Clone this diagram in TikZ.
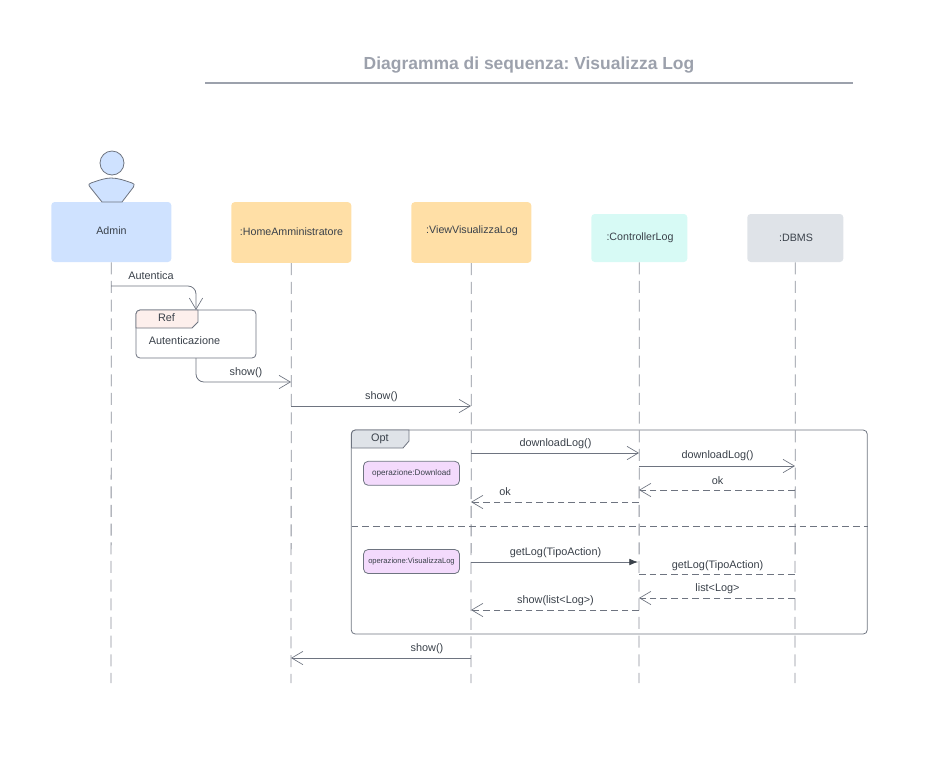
\documentclass[tikz,border=0pt]{standalone}
\usepackage{fontspec}
\setmainfont{Liberation Sans}
\frenchspacing
\usetikzlibrary{arrows.meta}
\definecolor{ln}{HTML}{6E7480}
\definecolor{lifeln}{HTML}{8A8F99}
\definecolor{txt}{HTML}{3A414A}
\definecolor{ttl}{HTML}{9CA1AC}
\definecolor{opfill}{HTML}{F3DAFC}
\definecolor{blueh}{HTML}{CFE2FF}
\definecolor{orangeh}{HTML}{FFDFA6}
\definecolor{tealh}{HTML}{D7FAF5}
\definecolor{grayh}{HTML}{DFE3E8}
\definecolor{refh}{HTML}{FDEFEC}
\tikzset{
  x=0.75pt,y=-0.75pt,
  head/.style={rectangle,rounded corners=2.5pt,inner sep=0pt,text=txt,font=\fontsize{8}{10}\selectfont},
  lifeline/.style={draw=lifeln,line width=0.6pt,dash pattern=on 9pt off 5pt},
  msg/.style={draw=ln,line width=0.6pt},
  opena/.style={-{Straight Barb[length=8.5pt,width=10pt,line width=0.5pt]}},
  ret/.style={msg,opena,dash pattern=on 5pt off 3pt},
  label/.style={text=txt,font=\fontsize{8.15}{10}\selectfont,inner sep=0pt},
  opbox/.style={rectangle,draw=ln,line width=0.6pt,rounded corners=3.5pt,fill=opfill,inner sep=0pt,text=txt,font=\fontsize{5.7}{7}\selectfont},
}
\begin{document}
\begin{tikzpicture}
\useasboundingbox (0,0) rectangle (931,758);
% title
\node[text=ttl,font=\fontsize{13.1}{16}\bfseries\selectfont,inner sep=0pt] (title) at (529,65) {Diagramma di sequenza: Visualizza Log};
\coordinate (tl) at (205,83); \coordinate (tr) at (853,83);
\draw[draw=ttl,line width=1.4pt] (tl) -- (tr);
% lifelines anchors
\coordinate (e1) at (111,683); \coordinate (e2) at (291,683); \coordinate (e3) at (471,683); \coordinate (e4) at (639,683); \coordinate (e5) at (795,683);
% heads
\node[head,fill=blueh,minimum width=90pt,minimum height=45pt] (admin) at (111.3,232) {};
\node[head,fill=orangeh,minimum width=90pt,minimum height=45.5pt] (home) at (291.3,232.5) {};
\node[head,fill=orangeh,minimum width=90pt,minimum height=45.5pt] (view) at (471.3,232.5) {};
\node[head,fill=tealh,minimum width=72pt,minimum height=36pt] (ctrl) at (639.3,238) {};
\node[head,fill=grayh,minimum width=72pt,minimum height=36pt] (dbms) at (795.3,238) {};
\node[head] (admint) at (111.5,231) {Admin};
\node[head] (homet) at (291.5,231.5) {:HomeAmministratore};
\node[head] (viewt) at (472,230.5) {:ViewVisualizzaLog};
\node[head] (ctrlt) at (640,237.5) {:ControllerLog};
\node[head] (dbmst) at (796,237.5) {:DBMS};
% actor
\node[circle,draw=ln,line width=0.6pt,fill=blueh,minimum size=18pt,inner sep=0pt] (actorhead) at (112,163) {};
\filldraw[draw=ln,line width=0.6pt,fill=blueh] (102,202) -- (90,187) .. controls (88,184.5) and (89,183.5) .. (91,183) .. controls (98,180.5) and (105,178) .. (111,178) .. controls (118,178) and (125,180.5) .. (132,183) .. controls (134,183.5) and (135,184.5) .. (133.5,187) -- (122,202) -- cycle;
% lifelines
\draw[lifeline] (admin.south) -- (e1);
\draw[lifeline] (home.south) -- (e2);
\draw[lifeline] (view.south) -- (e3);
\draw[lifeline] (ctrl.south) -- (e4);
\draw[lifeline] (dbms.south) -- (e5);
% ref frame
\node[rectangle,draw=ln,line width=0.6pt,rounded corners=3pt,fill=white,minimum width=90pt,minimum height=36pt,inner sep=0pt] (ref) at (196,334) {};
\filldraw[draw=ln,line width=0.6pt,fill=refh] (136,328) -- (136,313) [rounded corners=3pt] -- (136,310) [sharp corners] -- (198,310) -- (198,322) -- (192,328) -- cycle;
\node[label] (reft) at (166.5,318) {Ref};
\node[label] (refb) at (184.5,341) {Autenticazione};
% opt frame
\node[rectangle,draw=ln,line width=0.6pt,rounded corners=3pt,minimum width=387pt,minimum height=153pt,inner sep=0pt] (opt) at (609.25,532) {};
\filldraw[draw=ln,line width=0.6pt,fill=grayh] (351.4,448) -- (351.4,433) [rounded corners=3pt] -- (351.4,430) [sharp corners] -- (409,430) -- (409,441) -- (403,448) -- cycle;
\node[label] (optt) at (380,438.5) {Opt};
\coordinate (dl) at (351.5,526); \coordinate (dr) at (867.5,526);
\draw[draw=ln,line width=0.6pt,dash pattern=on 5pt off 3pt] (dl) -- (dr);
\node[opbox,minimum width=72pt,minimum height=18pt,font=\fontsize{6.1}{7}\selectfont] (op1) at (411.5,473.3) {operazione:Download};
\node[opbox,minimum width=72pt,minimum height=18pt] (op2) at (411.5,561.5) {operazione:VisualizzaLog};
% message endpoints
\coordinate (m1a) at (111,286); \coordinate (m1b) at (196,310);
\coordinate (m2a) at (196,358); \coordinate (m2b) at (291,382);
\coordinate (m3a) at (291,406); \coordinate (m3b) at (471,406);
\coordinate (m4a) at (471,453); \coordinate (m4b) at (639,453);
\coordinate (m5a) at (639,466); \coordinate (m5b) at (795,466);
\coordinate (m6a) at (795,490); \coordinate (m6b) at (639,490);
\coordinate (m7a) at (639,502); \coordinate (m7b) at (471,502);
\coordinate (m8a) at (471,562); \coordinate (m8b) at (638,562);
\coordinate (m9a) at (639,574.5); \coordinate (m9b) at (795,574.5);
\coordinate (m10a) at (795,598); \coordinate (m10b) at (639,598);
\coordinate (m11a) at (639,610); \coordinate (m11b) at (471,610);
\coordinate (m12a) at (471,658); \coordinate (m12b) at (291,658);
% messages
\draw[msg,opena,rounded corners=6pt] (m1a) -| (m1b);
\draw[msg,opena,rounded corners=6pt] (m2a) |- (m2b);
\draw[msg,opena] (m3a) -- (m3b);
\draw[msg,opena] (m4a) -- (m4b);
\draw[msg,opena] (m5a) -- (m5b);
\draw[ret] (m6a) -- (m6b);
\draw[ret] (m7a) -- (m7b);
\draw[msg,-{Latex[length=6.5pt,width=5pt,color=txt]}] (m8a) -- (m8b);
\draw[msg,dash pattern=on 5pt off 3pt] (m9a) -- (m9b);
\draw[ret] (m10a) -- (m10b);
\draw[ret] (m11a) -- (m11b);
\draw[msg,opena] (m12a) -- (m12b);
% labels
\node[label] (l1) at (151,276) {Autentica};
\node[label] (l2) at (246,372.5) {show()};
\node[label] (l3) at (381.5,396.5) {show()};
\node[label] (l4) at (555.5,444) {downloadLog()};
\node[label] (l5) at (717.5,456) {downloadLog()};
\node[label] (l6) at (717.5,481) {ok};
\node[label] (l7) at (505,492) {ok};
\node[label] (l8) at (555.5,552.5) {getLog(TipoAction)};
\node[label] (l9) at (717.5,565.5) {getLog(TipoAction)};
\node[label] (l10) at (717.5,589) {list<Log>};
\node[label] (l11) at (555.5,600.5) {show(list<Log>)};
\node[label] (l12) at (427,649) {show()};
\end{tikzpicture}
\end{document}
